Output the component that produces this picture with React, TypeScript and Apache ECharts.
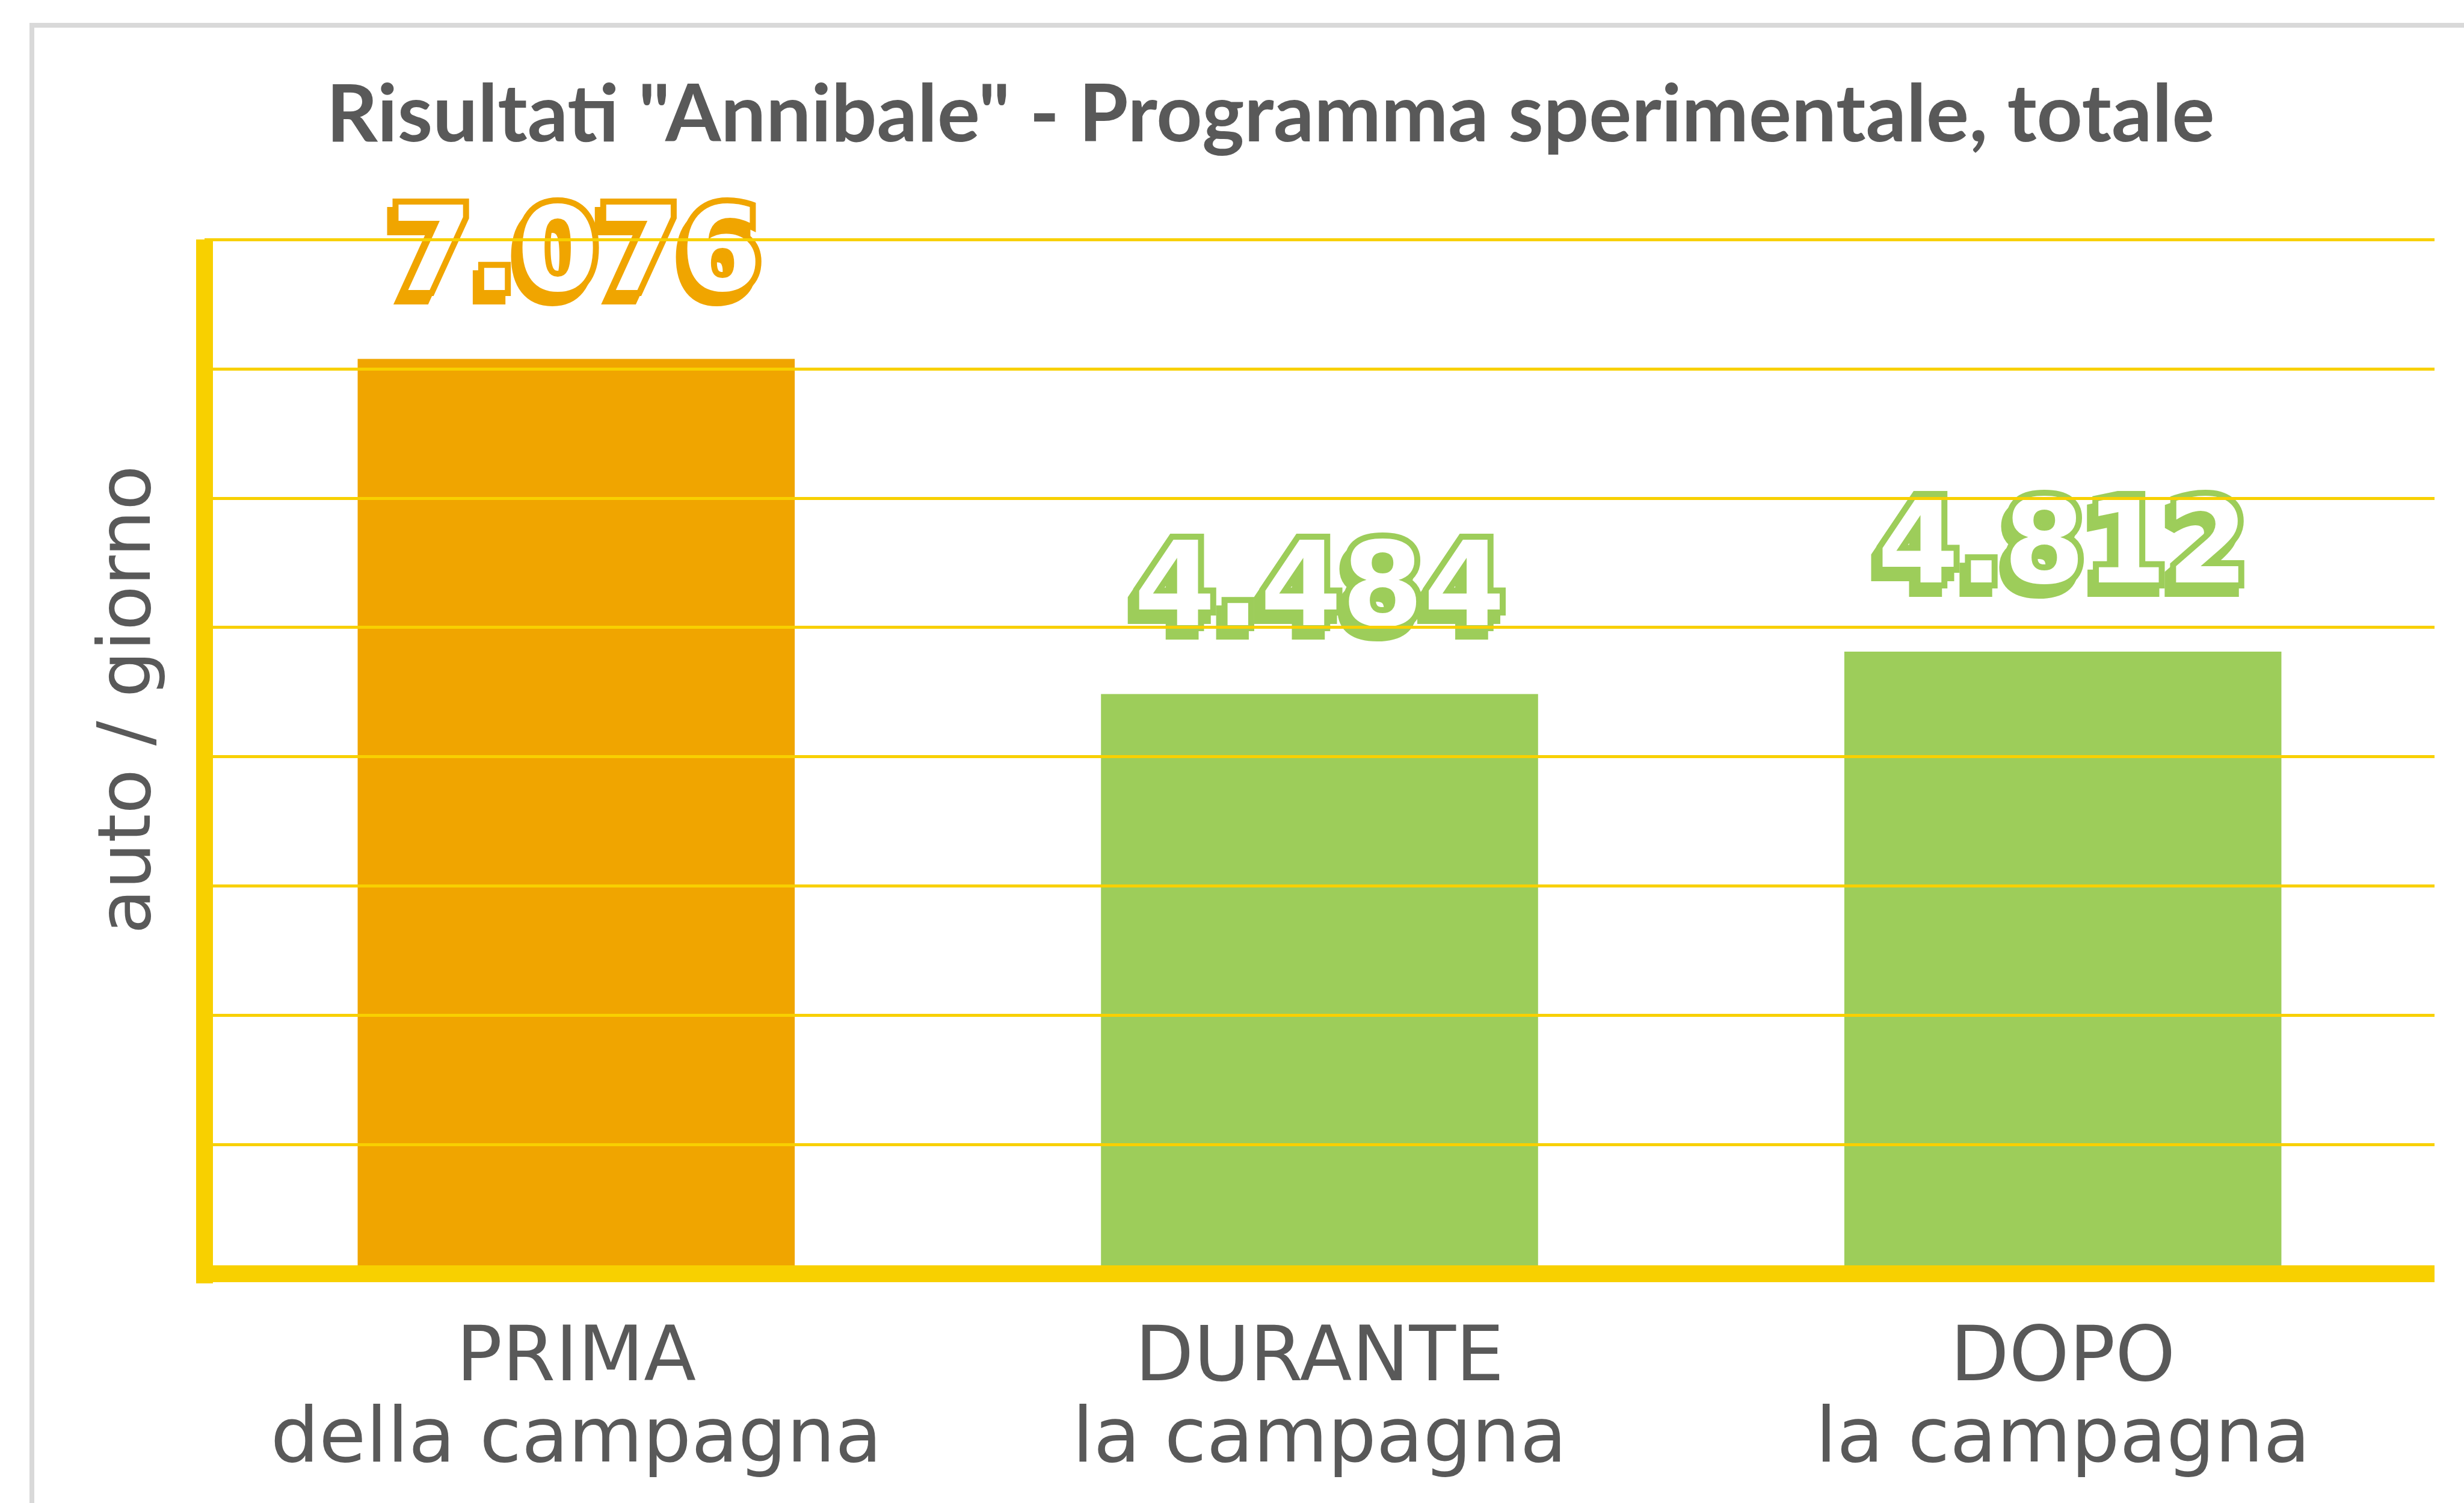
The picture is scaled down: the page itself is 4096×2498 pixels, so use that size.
import React, { useEffect, useRef } from "react";
import * as echarts from "echarts";

const titleText = 'Risultati "Annibale" - Programma sperimentale, totale';
const yAxisName = "auto / giorno";
const categories = ["PRIMA\ndella campagna", "DURANTE\nla campagna", "DOPO\nla campagna"];
const values = [7076, 4484, 4812];
const barColors = ["#F0A500", "#9DCD5A", "#9DCD5A"];
const yMin = 0;
const yMax = 8000;
const yInterval = 1000;

const TEXT_GRAY = "#595959";
const AXIS_YELLOW = "#F8D000";
const BORDER_GRAY = "#D9D9D9";

function fmtIt(v: number): string {
  return String(v).replace(/\B(?=(\d{3})+(?!\d))/g, ".");
}

export default function App() {
  const ref = useRef<HTMLDivElement>(null);
  useEffect(() => {
    document.body.style.margin = "0";
    if (!ref.current) return;
    const chart = echarts.init(ref.current, undefined, { renderer: "svg" });
    chart.setOption({
      animation: false,
      backgroundColor: "#ffffff",
      title: {
        text: titleText,
        left: 2112,
        top: 117,
        padding: 0,
        textAlign: "center",
        textStyle: {
          fontFamily: "Lato",
          fontWeight: "bold",
          fontSize: 133,
          lineHeight: 133,
          color: TEXT_GRAY,
        },
      },
      grid: { left: 340, right: 49, top: 398, bottom: 381 },
      xAxis: {
        type: "category",
        data: categories,
        z: 5,
        axisLine: { show: true, lineStyle: { color: AXIS_YELLOW, width: 28, cap: "butt" } },
        axisTick: { show: false },
        axisLabel: {
          interval: 0,
          margin: 65,
          fontFamily: "DejaVu Sans",
          fontSize: 127,
          lineHeight: 135,
          color: TEXT_GRAY,
        },
      },
      yAxis: {
        type: "value",
        min: yMin,
        max: yMax,
        interval: yInterval,
        z: 5,
        axisLine: { show: true, lineStyle: { color: AXIS_YELLOW, width: 28, cap: "butt" } },
        axisTick: { show: false },
        axisLabel: { show: false },
        splitLine: { show: true, lineStyle: { color: AXIS_YELLOW, width: 5 } },
      },
      graphic: [
        {
          type: "line",
          shape: { x1: 53, y1: 42, x2: 4096, y2: 42 },
          style: { stroke: BORDER_GRAY, lineWidth: 8 },
          silent: true,
        },
        {
          type: "line",
          shape: { x1: 53, y1: 38, x2: 53, y2: 2498 },
          style: { stroke: BORDER_GRAY, lineWidth: 8 },
          silent: true,
        },
        {
          type: "rect",
          shape: { x: 326, y: 2103, width: 28, height: 30 },
          style: { fill: AXIS_YELLOW },
          z: 10,
          silent: true,
        },
        {
          type: "text",
          x: 207,
          y: 1163,
          rotation: Math.PI / 2,
          style: {
            text: yAxisName,
            fontFamily: "DejaVu Sans",
            fontSize: 122,
            fill: TEXT_GRAY,
            textAlign: "center",
            textVerticalAlign: "middle",
          },
        },
      ],
      series: [
        {
          type: "bar",
          barWidth: "58.8%",
          data: values.map((v, i) => ({
            value: v,
            itemStyle: { color: barColors[i] },
            label: { textBorderColor: barColors[i], textShadowColor: barColors[i] },
          })),
          label: {
            show: true,
            position: "top",
            distance: 85,
            formatter: (p: any) => fmtIt(p.value),
            fontFamily: "DejaVu Sans",
            fontWeight: "bold",
            fontSize: 195,
            lineHeight: 195,
            color: "#ffffff",
            textBorderWidth: 20,
            textShadowBlur: 1,
            textShadowOffsetX: -9,
            textShadowOffsetY: 14,
          },
        },
      ],
    });
    return () => chart.dispose();
  }, []);
  return (
    <div
      ref={ref}
      style={{ position: "absolute", left: 0, top: 0, width: "4096px", height: "2498px" }}
    />
  );
}
